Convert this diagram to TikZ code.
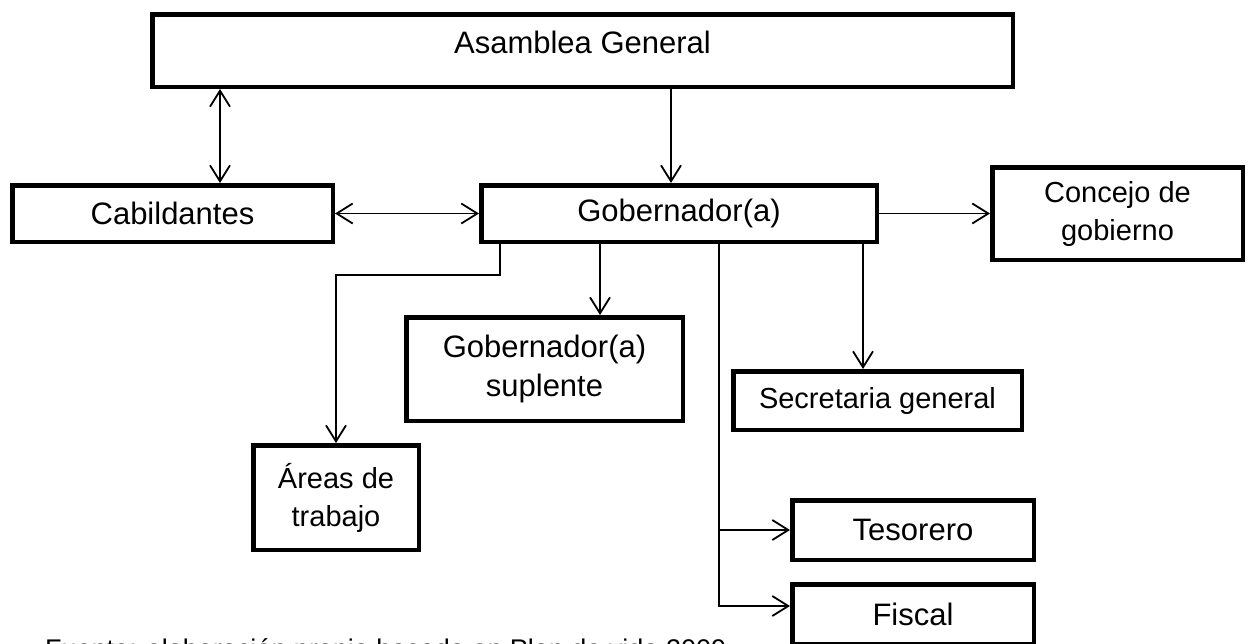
\documentclass[tikz,border=0pt]{standalone}
\usepackage{fontspec}
\setmainfont{Liberation Sans}
\usetikzlibrary{arrows.meta}

\tikzset{
    box/.style={draw, line width=4.5pt, inner sep=0pt, align=center, font=\fontsize{31}{39}\selectfont},
    boxs/.style={box, font=\fontsize{29}{38}\selectfont},
    arr/.style={line width=1.8pt, -{Straight Barb[length=16pt,width=20pt]}},
    darr/.style={line width=1.8pt, {Straight Barb[length=16pt,width=20pt]}-{Straight Barb[length=16pt,width=20pt]}},
}

\begin{document}
\begin{tikzpicture}[x=1pt,y=-1pt]
    \path[use as bounding box] (0,0) rectangle (1249,643);
    \clip (0,0) rectangle (1249,643);
    \fill[white] (0,0) rectangle (1249,643);

    \node[box, minimum width=860.5pt, minimum height=72.5pt, text depth=17pt] (asamblea) at (582.5,50.5) {Asamblea General};
    \node[box, minimum width=320.5pt, minimum height=56.5pt] (cabildantes) at (172.5,213.5) {Cabildantes};
    \node[box, minimum width=395.5pt, minimum height=56.5pt] (gob) at (679,213.5) {Gobernador(a)};
    \node[boxs, minimum width=250.5pt, minimum height=92.5pt] (concejo) at (1117.5,213.5) {Concejo de\\gobierno};
    \node[box, minimum width=276.5pt, minimum height=103.5pt] (suplente) at (544.5,369) {Gobernador(a)\\suplente};
    \node[boxs, minimum width=165.5pt, minimum height=104.5pt] (areas) at (336,497.5) {Áreas de\\trabajo};
    \node[boxs, minimum width=288.5pt, minimum height=58.5pt] (secretaria) at (877.5,400.5) {Secretaria general};
    \node[box, minimum width=241.5pt, minimum height=59.5pt] (tesorero) at (913,530) {Tesorero};
    \node[box, minimum width=241.5pt, minimum height=59.5pt] (fiscal) at (913,614) {Fiscal};

    \node[anchor=base west, inner sep=0pt, font=\fontsize{27}{32}\selectfont] (fuente) at (45,658) {Fuente: elaboración propia basada en Plan de vida 2009};

    \coordinate (xcab) at (220,0);
    \coordinate (xgob) at (671,0);
    \coordinate (xsup) at (600,0);
    \coordinate (xareas) at (500,0);
    \coordinate (yareas) at (0,275);
    \coordinate (xsec) at (863,0);
    \coordinate (trunk) at (719,0);

    \draw[darr] (asamblea.south -| xcab) -- (cabildantes.north -| xcab);
    \draw[arr] (asamblea.south -| xgob) -- (gob.north -| xgob);
    \draw[darr] (cabildantes.east) -- (gob.west);
    \draw[arr] (gob.east) -- (concejo.west);
    \draw[arr] (gob.south -| xsup) -- (suplente.north -| xsup);
    \draw[arr] (gob.south -| xareas) -- (xareas |- yareas) -| (areas.north);
    \draw[arr] (gob.south -| xsec) -- (secretaria.north -| xsec);
    \draw[arr] (gob.south -| trunk) |- (tesorero.west);
    \draw[arr] (gob.south -| trunk) |- ([yshift=8pt]fiscal.west);
\end{tikzpicture}
\end{document}
